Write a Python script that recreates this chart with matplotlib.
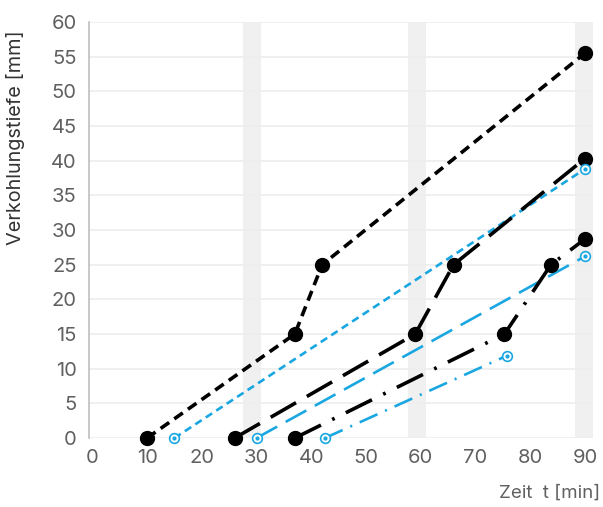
import matplotlib
matplotlib.use('Agg')
from matplotlib import pyplot as plt

plt.rcParams['font.family'] = ['Inter', 'DejaVu Sans']
plt.rcParams['lines.scale_dashes'] = False

# data (Zeit in min, Verkohlungstiefe in mm)
black1_x = [10, 37, 42, 90]
black1_y = [0, 15, 25, 55.5]
cyan1_x = [15, 90]
cyan1_y = [0, 38.8]

black2_x = [26, 59, 66, 90]
black2_y = [0, 15, 25, 40.3]
cyan2_x = [30, 90]
cyan2_y = [0, 26.2]

black3_x = [37, 75.3, 83.8, 90]
black3_y = [0, 15, 25, 28.7]
cyan3_x = [42.5, 75.8]
cyan3_y = [0, 11.9]

bands = [(27.5, 30.8), (57.7, 61.0), (88.2, 91.45)]

grey = '#606060'
cyan = '#1aa7e1'

fig = plt.figure(figsize=(6.03, 5.07), dpi=100)
ax = fig.add_axes([0.1476, 0.136, 0.8356, 0.8206])

for a, b in bands:
    ax.axvspan(a, b, color='#f0f0f0', lw=0, zorder=0)

ax.set_yticks(range(0, 61, 5))
ax.yaxis.grid(True, color='#eeeeee', lw=1.2, zorder=0)
ax.set_axisbelow(True)

# black series
ax.plot(black1_x, black1_y, color='black', lw=2.6, dashes=(7.5, 4.5),
        marker='o', ms=10, clip_on=False, zorder=4)
ax.plot(black2_x, black2_y, color='black', lw=2.6, dashes=(21, 9),
        marker='o', ms=10, clip_on=False, zorder=4)
ax.plot(black3_x, black3_y, color='black', lw=2.6, dashes=(21, 9, 2, 9),
        marker='o', ms=10, clip_on=False, zorder=4)

# cyan series
ax.plot(cyan1_x, cyan1_y, color=cyan, lw=1.9, dashes=(5.5, 3.5), clip_on=False, zorder=3)
ax.plot(cyan2_x, cyan2_y, color=cyan, lw=1.9, dashes=(17, 7), clip_on=False, zorder=3)
ax.plot(cyan3_x, cyan3_y, color=cyan, lw=1.9, dashes=(14, 6, 1.5, 6), clip_on=False, zorder=3)
for xs, ys in [(cyan1_x, cyan1_y), (cyan2_x, cyan2_y), (cyan3_x, cyan3_y)]:
    ax.plot(xs, ys, ls='none', marker='o', ms=7, mfc='white', mec=cyan, mew=1.2,
            clip_on=False, zorder=5)
    ax.plot(xs, ys, ls='none', marker='o', ms=2, color=cyan, clip_on=False, zorder=6)

ax.set_xlim(-0.6, 91.45)
ax.set_ylim(0, 60)
ax.set_xticks(range(0, 91, 10))

for s in ['top', 'right', 'bottom']:
    ax.spines[s].set_visible(False)
ax.spines['left'].set_color('#bfbfbf')
ax.spines['left'].set_linewidth(1.2)

ax.tick_params(axis='both', length=0, labelsize=14.5, labelcolor=grey)
ax.tick_params(axis='x', pad=8)
ax.tick_params(axis='y', pad=9)

fig.text(0.996, 0.027, 'Zeit  t [min]', ha='right', va='center', fontsize=13.5, color=grey)
fig.text(0.026, 0.728, 'Verkohlungstiefe [mm]', ha='center', va='center',
         rotation=90, fontsize=14.3, color='#333333')

fig.savefig('out.png', dpi=100)
